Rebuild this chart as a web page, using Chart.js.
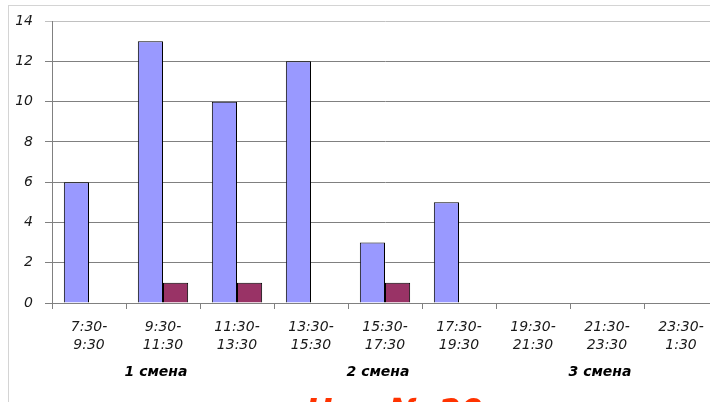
<!DOCTYPE html>
<html>
<head>
<meta charset="utf-8">
<script src="https://cdn.jsdelivr.net/npm/chart.js@4/dist/chart.umd.min.js"></script>
<style>
    html, body { margin: 0; padding: 0; background: #fff; overflow: hidden; }
    #wrap { position: relative; width: 740px; height: 402px; }
    #frame { position: absolute; left: 8px; top: 5px; right: 0; bottom: 0; border-left: 1px solid #d4d4d4; border-top: 1px solid #d4d4d4; pointer-events: none; }
</style>
</head>
<body>
<div id="wrap">
    <canvas id="shiftChart"></canvas>
    <div id="frame"></div>
</div>
<script>
// Time slots (x categories)
const categories = [
    ['7:30-', '9:30'],
    ['9:30-', '11:30'],
    ['11:30-', '13:30'],
    ['13:30-', '15:30'],
    ['15:30-', '17:30'],
    ['17:30-', '19:30'],
    ['19:30-', '21:30'],
    ['21:30-', '23:30'],
    ['23:30-', '1:30']
];
const seriesBlue = [6, 13, 10, 12, 3, 5, 0, 0, 0];
const seriesRed = [0, 1, 1, 0, 1, 0, 0, 0, 0];
const yTicks = [0, 2, 4, 6, 8, 10, 12, 14];
const shiftLabels = ['1 смена', '2 смена', '3 смена'];
const shiftAt = [1, 4, 7];
const footerText = 'Цех № 20';

const extraText = {
    id: 'extraText',
    afterDraw(chart) {
        const ctx = chart.ctx;
        const x = chart.scales.x;
        ctx.save();
        ctx.fillStyle = '#000';
        ctx.textAlign = 'center';
        ctx.textBaseline = 'middle';
        ctx.font = 'italic bold 14px "DejaVu Sans"';
        shiftLabels.forEach((t, i) => {
            ctx.fillText(t, x.getPixelForValue(shiftAt[i]) - 7, 372);
        });
        ctx.font = 'italic bold 32px "DejaVu Sans"';
        ctx.fillStyle = '#ff3300';
        ctx.textBaseline = 'alphabetic';
        ctx.fillText(footerText, 394, 421);
        ctx.restore();
    }
};

const tickFont = { family: '"DejaVu Sans"', size: 14, style: 'italic', lineHeight: 1.3 };

new Chart(document.getElementById('shiftChart'), {
    type: 'bar',
    data: {
        labels: categories,
        datasets: [
            {
                data: seriesBlue,
                backgroundColor: '#9999ff',
                borderColor: '#000',
                borderWidth: 1,
                categoryPercentage: 0.68,
                barPercentage: 1
            },
            {
                data: seriesRed,
                backgroundColor: '#993366',
                borderColor: '#000',
                borderWidth: 1,
                categoryPercentage: 0.68,
                barPercentage: 1
            }
        ]
    },
    options: {
        responsive: true,
        maintainAspectRatio: false,
        animation: false,
        layout: { padding: { left: 8, top: 19, right: 22, bottom: 0 } },
        plugins: {
            legend: { display: false },
            tooltip: { enabled: false }
        },
        scales: {
            x: {
                grid: { drawOnChartArea: false, drawTicks: true, tickLength: 6, color: '#808080', offset: true },
                border: { color: '#808080' },
                ticks: { color: '#1a1a1a', font: tickFont, maxRotation: 0, autoSkip: false, padding: 9 },
                afterFit: s => { s.height = 99; }
            },
            y: {
                min: 0,
                max: 14,
                afterBuildTicks: s => { s.ticks = yTicks.map(v => ({ value: v })); },
                grid: {
                    color: c => c.tick && c.tick.value === 14 ? '#c0c0c0' : '#808080',
                    tickLength: 7
                },
                border: { color: '#808080' },
                ticks: { color: '#1a1a1a', font: tickFont, padding: 12 },
                afterFit: s => { s.width = 44; }
            }
        }
    },
    plugins: [extraText]
});
</script>
</body>
</html>
